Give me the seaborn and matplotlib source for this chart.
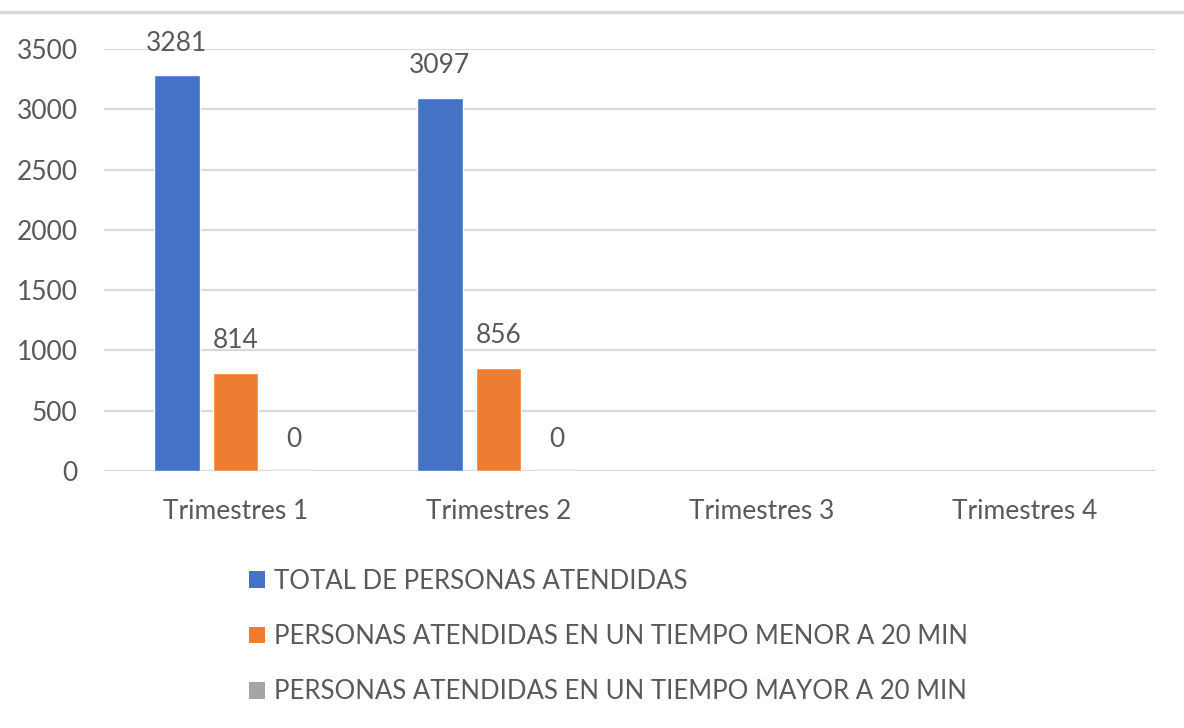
import numpy as np
import pandas as pd
import matplotlib.pyplot as plt
import seaborn as sb
from matplotlib.patches import Patch
from matplotlib.lines import Line2D

# data (trimestres 3 and 4 have no values yet)
trimestres = ["Trimestres 1", "Trimestres 2", "Trimestres 3", "Trimestres 4"]
series = ["TOTAL DE PERSONAS ATENDIDAS",
          "PERSONAS ATENDIDAS EN UN TIEMPO MENOR A 20 MIN",
          "PERSONAS ATENDIDAS EN UN TIEMPO MAYOR A 20 MIN"]
total = [3281, 3097]
menor = [814, 856]
mayor = [0, 0]
colores = ["#4472C4", "#ED7D31", "#A5A5A5"]

rows = []
for serie, vals in zip(series, [total, menor, mayor]):
    for t, v in zip(trimestres, vals):
        rows.append({"trimestre": t, "serie": serie, "valor": v})
df = pd.DataFrame(rows)

sb.set_style("white")
plt.rcParams["font.family"] = ["Lato", "DejaVu Sans"]
txt = "#595959"

fig = plt.figure(figsize=(11.84, 7.28), dpi=100)
ax = fig.add_axes([0.0878, 0.353, 0.8885, 0.5797])

sb.barplot(data=df, x="trimestre", y="valor", hue="serie", order=trimestres,
           hue_order=series, palette=colores, width=0.67, gap=0.22,
           saturation=1, legend=False, ax=ax)

for cont in ax.containers:
    ax.bar_label(cont, fmt="%d", padding=14, fontsize=19, color=txt)

ax.set_xlim(-0.5, 3.5)
ax.set_ylim(0, 3500)
ax.set_yticks(np.arange(0, 3501, 500))
ax.yaxis.grid(True, color="#d9d9d9", lw=1.6)
ax.set_axisbelow(True)
for s in ax.spines.values():
    s.set_visible(False)
ax.axhline(0, color="#d9d9d9", lw=1.6, zorder=0.5)
ax.tick_params(axis="both", length=0, labelsize=19, colors=txt)
ax.tick_params(axis="x", pad=20)
ax.tick_params(axis="y", pad=19)
ax.set_xlabel("")
ax.set_ylabel("")

handles = [Patch(facecolor=c, edgecolor="none") for c in colores]
fig.legend(handles, series, loc="upper left", bbox_to_anchor=(0.2015, 0.233),
           frameon=False, fontsize=18.5, labelcolor=txt, handlelength=0.62,
           handleheight=0.62, handletextpad=0.35, labelspacing=1.18,
           borderaxespad=0)

# thin gray line on top of the chart area
fig.add_artist(Line2D([0, 1], [1 - 12 / 728] * 2, color="#d9d9d9", lw=2.5,
                      transform=fig.transFigure))

fig.savefig("out.png", dpi=100)
